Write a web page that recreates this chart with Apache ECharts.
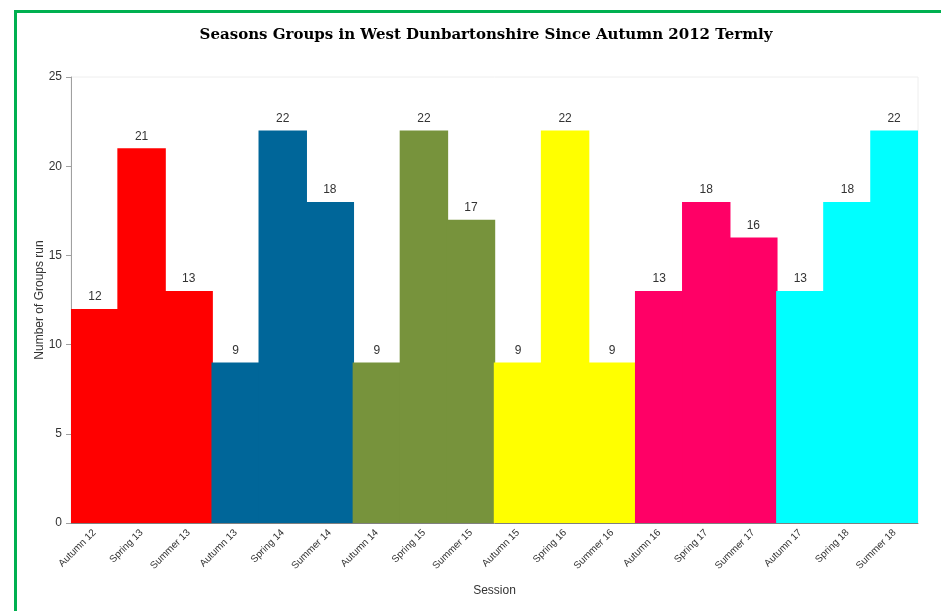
<!DOCTYPE html>
<html>
<head>
<meta charset="utf-8">
<script src="https://cdn.jsdelivr.net/npm/echarts@6/dist/echarts.min.js"></script>
<style>html,body{margin:0;padding:0;background:#fff}#c{width:941px;height:611px}</style>
</head>
<body>
<div id="c"></div>
<script>
const categories = ["Autumn 12","Spring 13","Summer 13","Autumn 13","Spring 14","Summer 14","Autumn 14","Spring 15","Summer 15","Autumn 15","Spring 16","Summer 16","Autumn 16","Spring 17","Summer 17","Autumn 17","Spring 18","Summer 18"];
const values = [12,21,13,9,22,18,9,22,17,9,22,9,13,18,16,13,18,22];
const groupColors = ["#FF0000","#006699","#77933C","#FFFF00","#FF0066","#00FFFF"];
const yTicks = [0,5,10,15,20,25];

const chart = echarts.init(document.getElementById('c'));
chart.setOption({
  animation: false,
  backgroundColor: '#fff',
  title: {
    text: 'Seasons Groups in West Dunbartonshire Since Autumn 2012 Termly',
    left: 481, textAlign: 'center', top: 23,
    textStyle: {fontFamily: 'DejaVu Serif', fontWeight: 'bold', fontSize: 15, color: '#000'}
  },
  graphic: [{
    type: 'rect', shape: {x: 15.5, y: 11.5, width: 1000, height: 800},
    style: {fill: 'none', stroke: '#00B050', lineWidth: 3}, z: 100
  }],
  grid: {left: 71, right: 23, top: 77, bottom: 88, show: true, borderColor: '#eeeeee', borderWidth: 1},
  xAxis: {
    type: 'category', data: categories,
    name: 'Session', nameLocation: 'middle', nameGap: 62,
    nameTextStyle: {fontFamily: 'Liberation Sans', fontSize: 12, color: '#333'},
    axisLine: {lineStyle: {color: '#808080'}},
    axisTick: {show: false},
    axisLabel: {rotate: 45, fontFamily: 'Liberation Sans', fontSize: 10, color: '#333', margin: 8, interval: 0}
  },
  yAxis: {
    type: 'value', min: yTicks[0], max: yTicks[yTicks.length-1], interval: 5,
    name: 'Number of Groups run', nameLocation: 'middle', nameGap: 25, nameMoveOverlap: false,
    nameTextStyle: {fontFamily: 'Liberation Sans', fontSize: 12, color: '#333'},
    splitLine: {show: false},
    axisLine: {show: true, lineStyle: {color: '#a0a0a0'}},
    axisTick: {show: true, length: 5, lineStyle: {color: '#a0a0a0'}},
    axisLabel: {fontFamily: 'Liberation Sans', fontSize: 12, color: '#333', margin: 9}
  },
  series: [{
    type: 'bar',
    barWidth: '103%',
    data: values.map((v, i) => {
      const c = groupColors[Math.floor(i/3)];
      return {value: v, itemStyle: {color: c}};
    }),
    label: {show: true, position: 'top', distance: 6, fontFamily: 'Liberation Sans', fontSize: 12, color: '#333'}
  }]
});
</script>
</body>
</html>
